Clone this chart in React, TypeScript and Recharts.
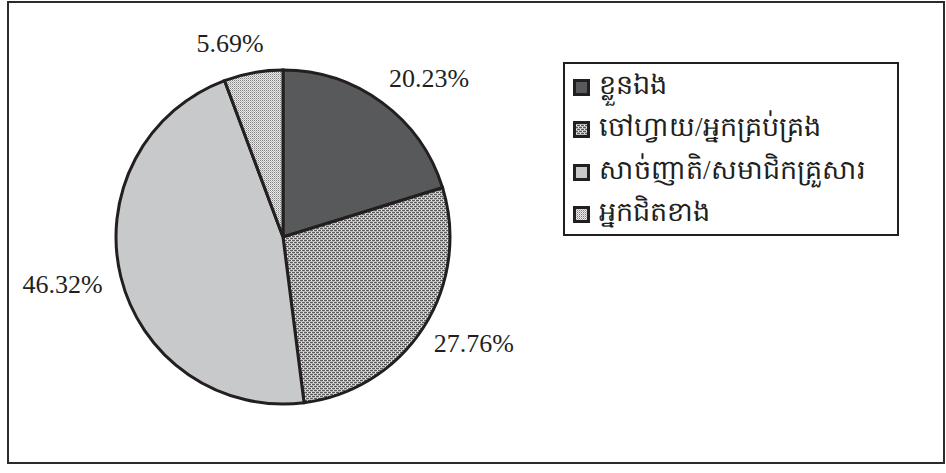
import { PieChart, Pie, Cell, Legend } from 'recharts'

const categories = [
  'ខ្លួនឯង',
  'ចៅហ្វាយ/អ្នកគ្រប់គ្រង',
  'សាច់ញាតិ/សមាជិកគ្រួសារ',
  'អ្នកជិតខាង',
]
const shares = [20.23, 27.76, 46.32, 5.69]
const fills = ['#58595b', 'url(#brick)', '#c8c9cb', 'url(#fineDots)']

const data = categories.map((name, i) => ({ name, value: shares[i] }))

const RADIAN = Math.PI / 180
const LABEL_SIZE = 26
const INK = '#231f20'

// label box sits just outside the rim, pushed outward by half its own size;
// labels above the pie get an extra sideways nudge like the original
function renderLabel(props: any) {
  const { cx, cy, midAngle, outerRadius, value } = props
  const text = `${value.toFixed(2)}%`
  const digits = text.replace(/[^0-9]/g, '').length
  const w = LABEL_SIZE * (0.5 * digits + 0.25 + 0.833)
  const h = LABEL_SIZE * 0.75
  const cos = Math.cos(-midAngle * RADIAN)
  const sin = Math.sin(-midAngle * RADIAN)
  const r = outerRadius + 20
  const nudge = sin < 0 ? 14 * Math.abs(sin) * Math.sign(cos) : 0
  const x = cx + r * cos + (w / 2) * cos + nudge
  const y = cy + r * sin + (h / 2) * sin
  return (
    <text
      x={x}
      y={y}
      textAnchor="middle"
      dominantBaseline="central"
      fill={INK}
      fontSize={LABEL_SIZE}
      fontFamily="'Liberation Serif', serif"
    >
      {text}
    </text>
  )
}

function LegendBox({ payload }: any) {
  return (
    <div
      style={{
        boxSizing: 'border-box',
        width: 336,
        height: 174,
        border: `2px solid ${INK}`,
        background: '#fff',
        padding: '2px 0 0 8px',
      }}
    >
      {(payload || []).map((entry: any, i: number) => (
        <div
          key={entry.value}
          style={{
            display: 'flex',
            alignItems: 'center',
            height: 42.5,
            fontFamily: "'Liberation Serif', serif",
            fontSize: 27,
            color: INK,
            whiteSpace: 'nowrap',
          }}
        >
          <svg width={17} height={17} style={{ marginRight: 9, flex: 'none' }}>
            <rect x={1.5} y={1.5} width={14} height={14} fill={fills[i]} stroke={INK} strokeWidth={3} />
          </svg>
          {entry.value}
        </div>
      ))}
    </div>
  )
}

export default function App() {
  return (
    <div style={{ position: 'absolute', left: 0, top: 0, width: 946, height: 473, background: '#fff' }}>
      <div
        style={{
          position: 'absolute',
          left: 7,
          top: 1,
          width: 938,
          height: 463,
          boxSizing: 'border-box',
          border: '2px solid #2b2b2b',
        }}
      />
      <div style={{ position: 'absolute', left: 0, top: 0 }}>
        <PieChart width={946} height={473} margin={{ top: 0, right: 0, bottom: 0, left: 0 }}>
          <defs>
            <pattern id="brick" width={4} height={4} patternUnits="userSpaceOnUse">
              <rect width={4} height={4} fill="#f2f2f2" />
              <rect x={0} y={0} width={3} height={1} fill="#5a5a5a" />
              <rect x={2} y={2} width={2} height={1} fill="#5a5a5a" />
              <rect x={0} y={2} width={1} height={1} fill="#5a5a5a" />
              <rect x={0} y={1} width={4} height={1} fill="#bdbdbd" />
              <rect x={0} y={3} width={4} height={1} fill="#bdbdbd" />
            </pattern>
            <pattern id="fineDots" width={2} height={2} patternUnits="userSpaceOnUse">
              <rect width={2} height={2} fill="#ececec" />
              <rect x={0} y={0} width={1} height={1} fill="#7d7d7d" />
              <rect x={1} y={1} width={1} height={1} fill="#b5b5b5" />
            </pattern>
          </defs>
          <Pie
            data={data}
            dataKey="value"
            nameKey="name"
            cx={283}
            cy={237}
            outerRadius={167}
            startAngle={90}
            endAngle={-270}
            stroke={INK}
            strokeWidth={3}
            label={renderLabel}
            labelLine={false}
            isAnimationActive={false}
          >
            {data.map((d, i) => (
              <Cell key={d.name} fill={fills[i]} />
            ))}
          </Pie>
          <Legend
            layout="vertical"
            align="right"
            verticalAlign="top"
            content={<LegendBox />}
            wrapperStyle={{ left: 563, top: 62, width: 336 }}
          />
        </PieChart>
      </div>
    </div>
  )
}
